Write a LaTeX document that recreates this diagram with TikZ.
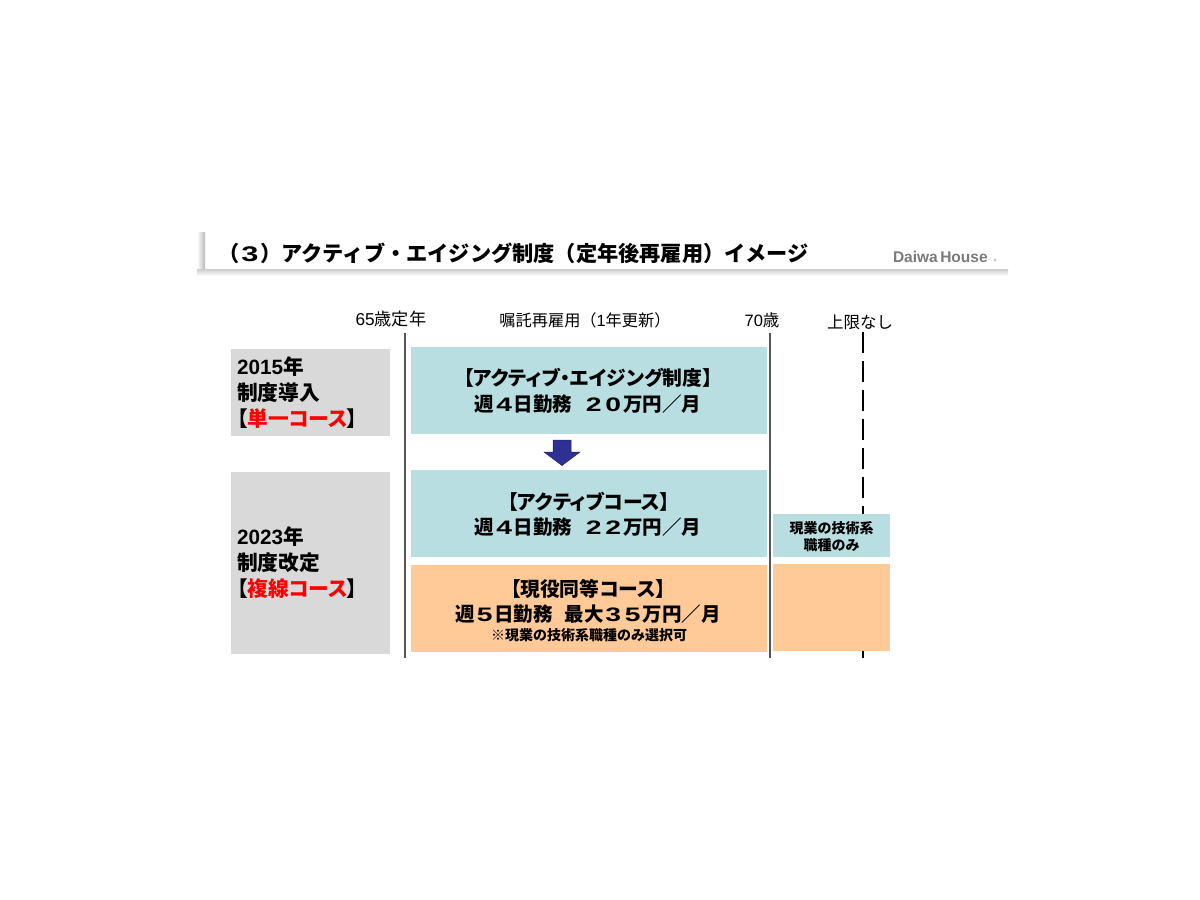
\documentclass[tikz,border=0pt]{standalone}
\usepackage{fontspec}
\usepackage{graphicx}
\setmainfont{Liberation Sans}
\newfontfamily\jp{Noto Sans CJK JP}
\newfontfamily\jpp[RawFeature={+palt}]{Noto Sans CJK JP}
\usetikzlibrary{shadings}
\definecolor{boxblue}{HTML}{B9DEE2}
\definecolor{boxorange}{HTML}{FFCA98}
\definecolor{boxgray}{HTML}{D9D9D9}
\definecolor{arrowblue}{HTML}{2E3192}
\definecolor{axisgray}{HTML}{555555}
\newcommand{\fs}[1]{\fontsize{#1pt}{#1pt}\selectfont}
\newcommand{\fd}[1]{\makebox[1em]{\scalebox{1.45}[1]{\rmfamily\bfseries #1}}}
\newcommand{\ld}[1]{{\rmfamily #1}}
\newcommand{\ldb}[1]{{\rmfamily\bfseries #1}}
\tikzset{
  panel/.style={anchor=north west,inner sep=0pt,outer sep=0pt,draw=none},
  lbl/.style={inner sep=0pt,outer sep=0pt,text=black,align=center},
  hdr/.style={lbl,font=\jp\fs{16.5}},
  yr/.style={lbl,font=\jp\bfseries\fs{20.7}},
  yrhead/.style={lbl,font=\jpp\bfseries\fs{20.7}},
  course/.style={lbl,font=\jp\bfseries\fs{19.5}},
  coursehead/.style={lbl,font=\jpp\bfseries\fs{19.8}},
  note/.style={lbl,font=\jp\bfseries\fs{14}},
}
\begin{document}
\begin{tikzpicture}[x=1pt,y=-1pt]
\useasboundingbox (0,0) rectangle (1200,900);
% title band with shadow
\fill[top color=black!20,bottom color=white] (205,269) rectangle (1008,276);
\fill[left color=white,right color=black!28] (197,232) rectangle (205,269);
\fill[top color=black!20,bottom color=white] (197,269) rectangle (205,276);
\node[lbl,anchor=west,font=\jp\bfseries\fs{21.2}] (title) at (218,253)
  {（\fd{3}）アクティブ・エイジング制度（定年後再雇用）イメージ};
\node[lbl,anchor=west,font=\rmfamily\bfseries\fs{15.5},text=black!52] (logo) at (893,257) {Daiwa\kern2.5pt House};
\fill[black!22] (995,260) circle (1.6);
% axis lines
\coordinate (a65t) at (405,333); \coordinate (a65b) at (405,658);
\coordinate (a70t) at (770,333); \coordinate (a70b) at (770,658);
\coordinate (atop) at (863,332); \coordinate (abot) at (863,658);
\draw[axisgray,line width=1.7pt] (a65t) -- (a65b);
\draw[axisgray,line width=1.7pt] (a70t) -- (a70b);
\draw[black,line width=2.4pt,dash pattern=on 20.5pt off 8.5pt] (atop) -- (abot);
% headers
\node[hdr,font=\jp\fs{17.2}] (h65) at (391,319) {\ld{65}歳定年};
\node[hdr,font=\jp\fs{16.2}] (hmid) at (585,320) {嘱託再雇用（\ld{1}年更新）};
\node[hdr] (h70) at (762,320) {\ld{70}歳};
\node[hdr] (hlim) at (860,322) {上限なし};
% left panels
\node[panel,fill=boxgray,minimum width=159pt,minimum height=87pt] (g1) at (231,349) {};
\node[panel,fill=boxgray,minimum width=159pt,minimum height=182pt] (g2) at (231,472) {};
\node[yr,anchor=west] (g1a) at (237,367) {\ldb{2015}年};
\node[yr,anchor=west] (g1b) at (237,393) {制度導入};
\node[yrhead,anchor=west] (g1c) at (237,419) {【\textcolor{red}{単一コース}】};
\node[yr,anchor=west] (g2a) at (237,537) {\ldb{2023}年};
\node[yr,anchor=west] (g2b) at (237,563) {制度改定};
\node[yrhead,anchor=west] (g2c) at (237,589) {【\textcolor{red}{複線コース}】};
% course panels
\node[panel,fill=boxblue,minimum width=356pt,minimum height=87pt] (c1) at (411,347) {};
\node[panel,fill=boxblue,minimum width=356pt,minimum height=87pt] (c2) at (411,470) {};
\node[panel,fill=boxorange,minimum width=356pt,minimum height=87pt] (c3) at (411,565) {};
\node[panel,fill=boxblue,minimum width=117pt,minimum height=43pt] (r1) at (773,514) {};
\node[panel,fill=boxorange,minimum width=117pt,minimum height=87pt] (r2) at (773,564) {};
\node[coursehead] (t1a) at (588,378) {【アクティブ・エイジング制度】};
\node[course] (t1b) at (588,404) {週\fd{4}日勤務\hspace{0.6em}\fd{2}\fd{0}万円／月};
\node[coursehead] (t2a) at (589,502) {【アクティブコース】};
\node[course] (t2b) at (588,527) {週\fd{4}日勤務\hspace{0.6em}\fd{2}\fd{2}万円／月};
\node[coursehead] (t3a) at (588,589) {【現役同等コース】};
\node[course] (t3b) at (588,614) {週\fd{5}日勤務\hspace{0.6em}最大\fd{3}\fd{5}万円／月};
\node[note] (t3c) at (589,635) {※現業の技術系職種のみ選択可};
\node[note] (r1a) at (831.5,528) {現業の技術系};
\node[note] (r1b) at (831.5,545) {職種のみ};
% arrow
\draw[fill=arrowblue,draw=arrowblue!70!black,line width=0.5pt]
  (553,440) -- (571,440) -- (571,452) -- (580,452) -- (562,465.5) -- (544,452) -- (553,452) -- cycle;
\end{tikzpicture}
\end{document}
